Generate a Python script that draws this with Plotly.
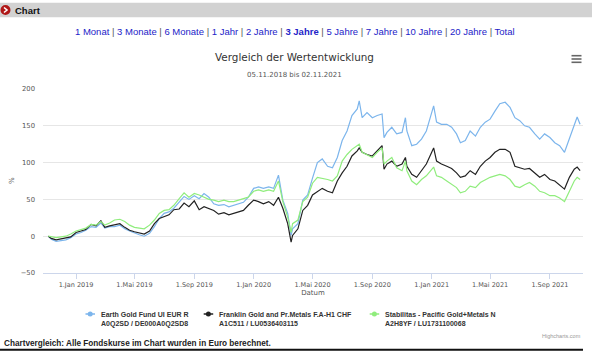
import plotly.graph_objects as go

# ---------------- data ----------------
dates = [
    "2018-11-05", "2018-11-11", "2018-11-21", "2018-12-01", "2018-12-11", "2018-12-21",
    "2019-01-01", "2019-01-11", "2019-01-21", "2019-02-01", "2019-02-11", "2019-02-21",
    "2019-03-01", "2019-03-11", "2019-03-21", "2019-04-01", "2019-04-11", "2019-04-21",
    "2019-05-01", "2019-05-11", "2019-05-21", "2019-06-01", "2019-06-11", "2019-06-21",
    "2019-07-01", "2019-07-11", "2019-07-21", "2019-08-01", "2019-08-11", "2019-08-21",
    "2019-09-01", "2019-09-11", "2019-09-21", "2019-10-01", "2019-10-11", "2019-10-21",
    "2019-11-01", "2019-11-11", "2019-11-21", "2019-12-01", "2019-12-11", "2019-12-21",
    "2020-01-01", "2020-01-11", "2020-01-21", "2020-02-01", "2020-02-11", "2020-02-21",
    "2020-03-01", "2020-03-11", "2020-03-18", "2020-03-21", "2020-04-01", "2020-04-11",
    "2020-04-21", "2020-05-01", "2020-05-11", "2020-05-21", "2020-06-01", "2020-06-11",
    "2020-06-21", "2020-07-01", "2020-07-11", "2020-07-21", "2020-08-01", "2020-08-05",
    "2020-08-11", "2020-08-21", "2020-09-01", "2020-09-11", "2020-09-21", "2020-09-25",
    "2020-10-01", "2020-10-11", "2020-10-21", "2020-11-01", "2020-11-08", "2020-11-11",
    "2020-11-21", "2020-12-01", "2020-12-11", "2020-12-21", "2021-01-01", "2021-01-05",
    "2021-01-11", "2021-01-21", "2021-02-01", "2021-02-11", "2021-02-21", "2021-03-01",
    "2021-03-11", "2021-03-21", "2021-04-01", "2021-04-11", "2021-04-21", "2021-05-01",
    "2021-05-11", "2021-05-21", "2021-06-01", "2021-06-11", "2021-06-21", "2021-07-01",
    "2021-07-11", "2021-07-21", "2021-08-01", "2021-08-11", "2021-08-21", "2021-09-01",
    "2021-09-11", "2021-09-21", "2021-10-01", "2021-10-11", "2021-10-21", "2021-10-27",
    "2021-11-02",
]
earth_gold = [
    0, -4, -7, -6, -5, -2,
    3, 5, 8, 13, 12, 18,
    11, 13, 13, 15, 10, 7,
    4, 2, 0, 4, 13, 24,
    31, 33, 38, 47, 54, 50,
    55, 51, 58, 53, 44, 42,
    43, 40, 42, 44, 46, 53,
    65, 67, 65, 67, 65, 83,
    49, 31, 1, 10, 17, 49,
    56, 79, 100, 105, 95, 93,
    107, 130, 143, 164, 173, 184,
    161, 168, 161, 164, 166, 134,
    141, 148, 139, 141, 161, 143,
    123, 125, 132, 143, 166, 177,
    155, 152, 152, 148, 139, 127,
    130, 143, 136, 148, 155, 159,
    170, 180, 182, 175, 161, 157,
    150, 148, 139, 132, 139, 134,
    127, 123, 114, 132, 152, 162,
    152,
]
franklin = [
    0, -3, -5, -4, -3, -1,
    5, 7, 9, 16, 14, 21,
    12, 14, 15, 17, 12, 8,
    6, 4, 3, 7, 17, 24,
    26, 29, 36, 37, 45, 40,
    48, 36, 40, 38, 35, 30,
    32, 29, 31, 32, 35, 42,
    49, 47, 44, 47, 42, 53,
    38, 17, -8, 1, 10, 35,
    42, 56, 61, 65, 61, 59,
    75, 86, 95, 109, 116, 120,
    114, 111, 109, 116, 123, 91,
    98, 102, 95, 98, 107, 95,
    84, 80, 89, 98, 114, 120,
    102, 98, 95, 92, 86, 80,
    82, 89, 84, 95, 102, 107,
    114, 118, 118, 114, 95, 93,
    91, 92, 86, 80, 84, 77,
    75, 70, 64, 80, 91, 94,
    89,
]
stabilitas = [
    0, -1, -2, -1, 0, 3,
    7, 9, 11, 16, 15, 20,
    15, 18, 22, 23, 20, 15,
    12, 11, 10, 15, 22, 31,
    35, 36, 42, 51, 59, 53,
    58, 56, 53, 50, 49, 47,
    49, 47, 47, 49, 50, 53,
    61, 63, 61, 63, 61, 75,
    47, 26, 5, 17, 22, 47,
    53, 72, 80, 79, 77, 75,
    82, 102, 111, 118, 123, 125,
    114, 111, 107, 114, 120, 98,
    102, 107, 93, 89, 102, 89,
    75, 70, 77, 82, 91, 94,
    82, 80, 75, 70, 66, 59,
    61, 68, 66, 73, 77, 80,
    82, 84, 82, 77, 68, 66,
    70, 73, 68, 61, 59, 55,
    55, 52, 47, 61, 75, 80,
    77,
]

series_names = ["Earth Gold Fund UI EUR R", "Franklin Gold and Pr.Metals F.A-H1 CHF",
                "Stabilitas - Pacific Gold+Metals N"]
series_ids = ["A0Q2SD / DE000A0Q2SD8", "A1C511 / LU0536403115", "A2H8YF / LU1731100068"]
series_colors = ["#7cb5ec", "#222222", "#90ed7d"]

tick_vals = ["2019-01-01", "2019-05-01", "2019-09-01", "2020-01-01", "2020-05-01",
             "2020-09-01", "2021-01-01", "2021-05-01", "2021-09-01"]
tick_text = ["1.Jan 2019", "1.Mai 2019", "1.Sep 2019", "1.Jan 2020", "1.Mai 2020",
             "1.Sep 2020", "1.Jan 2021", "1.Mai 2021", "1.Sep 2021"]
range_links = ["1 Monat", "3 Monate", "6 Monate", "1 Jahr", "2 Jahre", "3 Jahre",
               "5 Jahre", "7 Jahre", "10 Jahre", "20 Jahre", "Total"]
active_link = "3 Jahre"

# ---------------- geometry helpers ----------------
W, H = 592, 351
ML, MR, MT, MB = 43, 9, 89, 78
PW, PH = W - ML - MR, H - MT - MB


def fx(px):
    return (px - ML) / PW


def fy(py):
    return (H - MB - py) / PH


fig = go.Figure()
for name, vals, col in zip(series_names, [earth_gold, franklin, stabilitas], series_colors):
    fig.add_trace(go.Scatter(x=dates, y=vals, mode="lines", name=name,
                             line=dict(color=col, width=1.2), showlegend=False))

shapes = []
annotations = []

# top grey header bar
shapes.append(dict(type="rect", xref="paper", yref="paper", x0=fx(0), x1=fx(W),
                   y0=fy(17.3), y1=fy(2.7), fillcolor="#d2d2d2", line=dict(width=0), layer="below"))
shapes.append(dict(type="circle", xref="paper", yref="paper", x0=fx(0.5), x1=fx(10.5),
                   y0=fy(15), y1=fy(5), fillcolor="#b01818", line=dict(width=0)))
shapes.append(dict(type="path", xref="paper", yref="paper",
                   path=f"M {fx(4)} {fy(7.5)} L {fx(7)} {fy(10)} L {fx(4)} {fy(12.5)}",
                   line=dict(color="white", width=1.6)))
annotations.append(dict(text="<b>Chart</b>", x=fx(13), y=fy(10), xref="paper", yref="paper",
                        xanchor="left", yanchor="middle", showarrow=False,
                        font=dict(family="Liberation Sans", size=9.5, color="#111")))

# range links
sep = ' <span style="color:#555">|</span> '
parts = [f"<b>{t}</b>" if t == active_link else t for t in range_links]
annotations.append(dict(text=sep.join(parts), x=fx(294.5), y=fy(31.5), xref="paper", yref="paper",
                        xanchor="center", yanchor="middle", showarrow=False,
                        font=dict(family="Liberation Sans", size=9.5, color="#2323c8")))

# title & subtitle
annotations.append(dict(text="Vergleich der Wertentwicklung", x=fx(294), y=fy(57), xref="paper",
                        yref="paper", xanchor="center", yanchor="middle", showarrow=False,
                        font=dict(family="DejaVu Sans", size=10.4, color="#333333")))
annotations.append(dict(text="05.11.2018 bis 02.11.2021", x=fx(294.5), y=fy(75), xref="paper",
                        yref="paper", xanchor="center", yanchor="middle", showarrow=False,
                        font=dict(family="DejaVu Sans", size=7, color="#555555")))

# hamburger
for yy in (55.7, 59, 62.3):
    shapes.append(dict(type="line", xref="paper", yref="paper", x0=fx(571.5), x1=fx(581.5),
                       y0=fy(yy), y1=fy(yy), line=dict(color="#666666", width=1.6)))

# y axis title
annotations.append(dict(text="%", x=fx(12), y=fy(181), xref="paper", yref="paper",
                        xanchor="center", yanchor="middle", showarrow=False, textangle=-90,
                        font=dict(family="DejaVu Sans", size=7, color="#666666")))

# legend
legend_text_x = [98.5, 216.7, 382.7]
leg_y = 314
for tx, name, ident, col in zip(legend_text_x, series_names, series_ids, series_colors):
    shapes.append(dict(type="line", xref="paper", yref="paper", x0=fx(tx - 13), x1=fx(tx - 3.5),
                       y0=fy(leg_y), y1=fy(leg_y), line=dict(color=col, width=1.5)))
    shapes.append(dict(type="circle", xref="paper", yref="paper", x0=fx(tx - 10.8), x1=fx(tx - 5.8),
                       y0=fy(leg_y + 2.5), y1=fy(leg_y - 2.5), fillcolor=col, line=dict(width=0)))
    annotations.append(dict(text=f"<b>{name}</b><br><b>{ident}</b>", x=fx(tx), y=fy(leg_y - 5),
                            xref="paper", yref="paper", xanchor="left", yanchor="top",
                            align="left", showarrow=False,
                            font=dict(family="Liberation Sans", size=7, color="#333333")))

# credits
annotations.append(dict(text="Highcharts.com", x=fx(583), y=fy(336), xref="paper", yref="paper",
                        xanchor="right", yanchor="middle", showarrow=False,
                        font=dict(family="Liberation Sans", size=5.5, color="#999999")))
# footnote
annotations.append(dict(text="<b>Chartvergleich: Alle Fondskurse im Chart wurden in Euro berechnet.</b>",
                        x=fx(1.5), y=fy(343.5), xref="paper", yref="paper", xanchor="left",
                        yanchor="middle", showarrow=False,
                        font=dict(family="Liberation Sans", size=8.2, color="#222222")))
shapes.append(dict(type="line", xref="paper", yref="paper", x0=fx(0), x1=fx(583),
                   y0=fy(349.7), y1=fy(349.7), line=dict(color="#111111", width=2)))

fig.update_layout(
    width=W, height=H,
    margin=dict(l=ML, r=MR, t=MT, b=MB, pad=0),
    paper_bgcolor="white", plot_bgcolor="white",
    shapes=shapes, annotations=annotations,
    xaxis=dict(
        range=["2018-10-25", "2021-11-08"],
        tickvals=tick_vals, ticktext=tick_text,
        showgrid=False, zeroline=False,
        showline=True, linecolor="#ccd6eb", linewidth=1,
        ticks="outside", ticklen=5, tickcolor="#ccd6eb",
        tickfont=dict(family="DejaVu Sans", size=6.5, color="#555555"),
        title=dict(text="Datum", standoff=2,
                   font=dict(family="DejaVu Sans", size=7, color="#555555")),
    ),
    yaxis=dict(
        range=[-50, 200], dtick=50, tick0=0,
        showgrid=True, gridcolor="#e6e6e6", gridwidth=1,
        zeroline=False, showline=False, ticks="",
        ticklabelstandoff=7,
        tickfont=dict(family="DejaVu Sans", size=6.8, color="#555555"),
    ),
)

fig.write_html("out.html")
